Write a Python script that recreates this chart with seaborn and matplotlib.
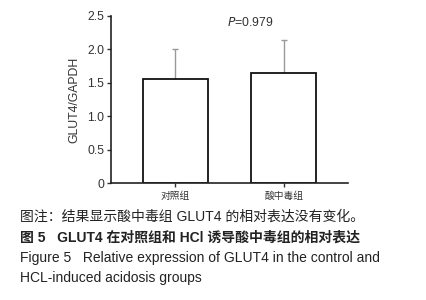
import matplotlib
matplotlib.use('Agg')
import matplotlib.pyplot as plt
import seaborn as sns
import pandas as pd

# 数据
groups = ['对照组', '酸中毒组']
means = [1.56, 1.65]
sds = [0.44, 0.49]
p_value = '=0.979'
y_ticks = [0, 0.5, 1.0, 1.5, 2.0, 2.5]
y_ticklabels = ['0', '0.5', '1.0', '1.5', '2.0', '2.5']

sns.set_style('ticks')
plt.rcParams['font.family'] = ['Liberation Sans', 'Noto Sans CJK SC', 'DejaVu Sans']
plt.rcParams['axes.unicode_minus'] = False

df = pd.DataFrame({'group': groups, 'value': means})

fig = plt.figure(figsize=(4.26, 3.0), dpi=100)
ax = fig.add_axes([0.2606, 0.39, 0.556, 0.5567])

sns.barplot(data=df, x='group', y='value', ax=ax, color='white', width=0.6,
            edgecolor='#111111', linewidth=1.3, errorbar=None)
ax.errorbar(range(len(groups)), means, yerr=[[0] * len(sds), sds], fmt='none',
            ecolor='#999999', elinewidth=1.0, capsize=2, capthick=1.0, zorder=0)

ax.set_xlim(-0.59, 1.59)
ax.set_ylim(0, 2.5)
ax.set_yticks(y_ticks)
ax.set_yticklabels(y_ticklabels)
ax.set_xlabel('')
ax.set_ylabel('GLUT4/GAPDH', fontsize=8.8, color='#333333', labelpad=5)
ax.tick_params(axis='y', labelsize=8.8, colors='#333333', length=3, width=1, pad=2)
ax.tick_params(axis='x', labelsize=7, colors='#333333', length=3, width=1, pad=3)
for s in ['left', 'bottom']:
    ax.spines[s].set_linewidth(1.2)
    ax.spines[s].set_color('#222222')
sns.despine(ax=ax)

ax.text(0.69, 2.4, r'$\mathit{P}$' + p_value, fontsize=8.8, color='#333333',
        ha='center', va='center')

# 图注
cap_kw = dict(fontsize=10, color='#222222', ha='left', va='center')
fig.text(20 / 426, 1 - 217 / 300, '图注：结果显示酸中毒组 GLUT4 的相对表达没有变化。', **cap_kw)
fig.text(20 / 426, 1 - 238 / 300, '图 5   GLUT4 在对照组和 HCl 诱导酸中毒组的相对表达',
         fontweight='bold', **cap_kw)
fig.text(20 / 426, 1 - 258 / 300, 'Figure 5   Relative expression of GLUT4 in the control and', **cap_kw)
fig.text(20 / 426, 1 - 278 / 300, 'HCL-induced acidosis groups', **cap_kw)

fig.savefig('out.png', dpi=100)
